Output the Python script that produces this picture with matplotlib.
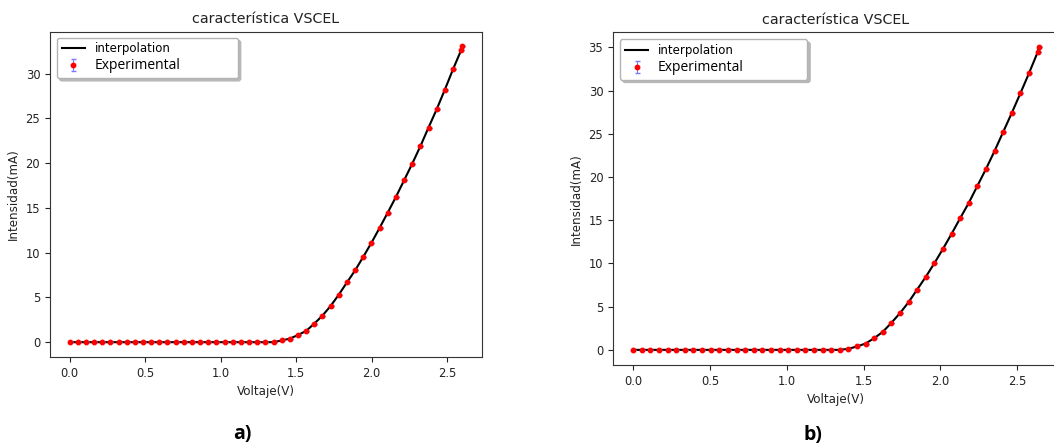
import matplotlib.pyplot as plt

# === Data ===
volt_a = [0.000, 0.054, 0.108, 0.162, 0.216, 0.270, 0.324, 0.378, 0.432, 0.486,
          0.540, 0.594, 0.648, 0.702, 0.756, 0.810, 0.864, 0.918, 0.972, 1.026,
          1.080, 1.134, 1.188, 1.242, 1.296, 1.350, 1.404, 1.458, 1.512, 1.566,
          1.620, 1.674, 1.728, 1.782, 1.836, 1.890, 1.944, 1.998, 2.052, 2.106,
          2.160, 2.214, 2.268, 2.322, 2.376, 2.430, 2.484, 2.538, 2.592, 2.600]
curr_a = [0, 0, 0, 0, 0, 0, 0, 0, 0, 0,
          0, 0, 0, 0, 0, 0, 0, 0, 0, 0,
          0, 0, 0, 0, 0, 0, 0.19, 0.40, 0.80, 1.26,
          2.08, 2.97, 4.05, 5.31, 6.68, 8.02, 9.54, 11.10, 12.77, 14.48,
          16.23, 18.08, 19.94, 21.90, 23.99, 26.03, 28.22, 30.49, 32.64, 33.05]

volt_b = [0.000, 0.056, 0.112, 0.168, 0.224, 0.280, 0.336, 0.392, 0.448, 0.504,
          0.560, 0.616, 0.672, 0.728, 0.784, 0.840, 0.896, 0.952, 1.008, 1.064,
          1.120, 1.176, 1.232, 1.288, 1.344, 1.400, 1.456, 1.512, 1.568, 1.624,
          1.680, 1.736, 1.792, 1.848, 1.904, 1.960, 2.016, 2.072, 2.128, 2.184,
          2.240, 2.296, 2.352, 2.408, 2.464, 2.520, 2.576, 2.632, 2.640]
curr_b = [0, 0, 0, 0, 0, 0, 0, 0, 0, 0,
          0, 0, 0, 0, 0, 0, 0, 0, 0, 0,
          0, 0, 0, 0, 0, 0.12, 0.39, 0.73, 1.35, 2.08,
          3.12, 4.24, 5.51, 6.98, 8.44, 10.02, 11.68, 13.42, 15.23, 17.00,
          18.97, 20.93, 23.01, 25.21, 27.41, 29.68, 32.00, 34.42, 35.00]

err = 0.0  # error bars are too small to see
panel_tags = ["a)", "b)"]

fig = plt.figure(figsize=(10.54, 4.45), dpi=100)
ax_a = fig.add_axes([0.0474, 0.1978, 0.4099, 0.7310])
ax_b = fig.add_axes([0.5816, 0.1798, 0.4232, 0.7476])


def draw_panel(ax, v, i, leg_box):
    ax.plot(v, i, color='black', lw=1.5, label='interpolation', zorder=2)
    ax.errorbar(v, i, yerr=err, fmt='o', color='red', ms=3.2, ecolor='#7a7aff',
                elinewidth=0.8, capsize=1.8, label='Experimental', zorder=3)
    ax.set_title("característica VSCEL", fontsize=10.3, color='#222222')
    ax.set_xlabel("Voltaje(V)", fontsize=8.6, color='#222222')
    ax.set_ylabel("Intensidad(mA)", fontsize=8.6, color='#222222')
    ax.tick_params(labelsize=8.3, colors='#222222')
    for s in ax.spines.values():
        s.set_color('#333333')
    leg = ax.legend(loc='upper left', bbox_to_anchor=leg_box, mode='expand',
                    borderaxespad=0, fontsize=8.5,
                    shadow={'color': '0.72', 'alpha': 1},
                    fancybox=True, framealpha=1, edgecolor='0.7', labelspacing=0.25)
    leg.get_texts()[1].set_fontfamily('Open Sans')
    leg.get_texts()[1].set_fontsize(10)
    return leg


draw_panel(ax_a, volt_a, curr_a, (0.016, 0.0, 0.419, 0.9815))
draw_panel(ax_b, volt_b, curr_b, (0.0157, 0.0, 0.42, 0.979))
# panel b is cut at the right edge of the picture: no right spine visible
ax_b.spines['right'].set_visible(False)

fig.text(0.2301, 0.025, panel_tags[0], fontsize=14, fontweight='bold',
         family='Open Sans', ha='center', va='center')
fig.text(0.7711, 0.022, panel_tags[1], fontsize=14, fontweight='bold',
         family='Open Sans', ha='center', va='center')

fig.savefig("out.png", dpi=100)
